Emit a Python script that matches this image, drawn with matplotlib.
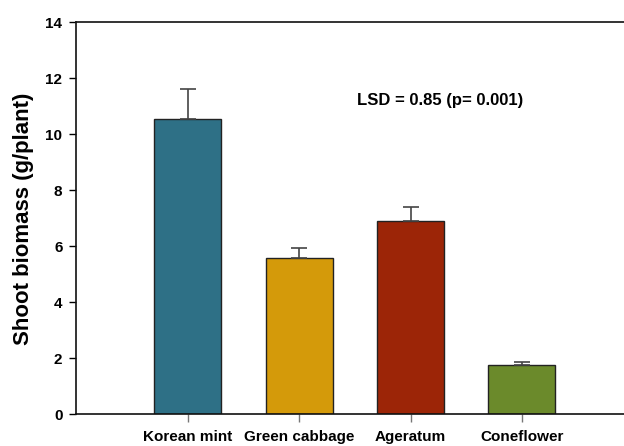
import matplotlib.pyplot as plt

# Shoot biomass per plant species, mean and standard error
species = ["Korean mint", "Green cabbage", "Ageratum", "Coneflower"]
biomass = [10.54, 5.57, 6.90, 1.77]
stderr = [1.08, 0.38, 0.50, 0.10]
colors = ["#2E7086", "#D49A0A", "#9C2507", "#6B8A2B"]

plt.rcParams['font.family'] = ['Liberation Sans', 'DejaVu Sans']
plt.rcParams['font.weight'] = 'bold'

fig = plt.figure(figsize=(6.24, 4.46), dpi=100)
ax = fig.add_axes([76.3 / 624, 0.071, 1 - 76.3 / 624, 0.879])

x = [1, 2, 3, 4]
ax.bar(x, biomass, width=0.6, color=colors, edgecolor="#222222", linewidth=1.0,
       yerr=[[0] * 4, stderr], error_kw=dict(ecolor="#444444", elinewidth=1.2,
                                              capsize=5.5, capthick=1.2))

ax.set_xlim(0, (624 - 76.3) / 111.4)
ax.set_ylim(0, 14)
ax.set_yticks(range(0, 15, 2))
ax.set_xticks(x)
ax.set_xticklabels(species, fontsize=11, fontweight='bold')
ax.tick_params(axis='y', labelsize=11, length=5, width=1, pad=5)
ax.tick_params(axis='x', length=6, width=1, color="#777777", pad=5)
for lbl in ax.get_yticklabels():
    lbl.set_fontweight('bold')

ax.spines['right'].set_visible(False)
for s in ['left', 'top', 'bottom']:
    ax.spines[s].set_linewidth(1.2)
    ax.spines[s].set_color("#111111")

ax.set_ylabel("Shoot biomass (g/plant)", fontsize=16, fontweight='bold', labelpad=8)
ax.text(2.52, 11.22, "LSD = 0.85 (p= 0.001)", fontsize=12, fontweight='bold',
        va='center', ha='left')

fig.savefig("out.png", dpi=100)
